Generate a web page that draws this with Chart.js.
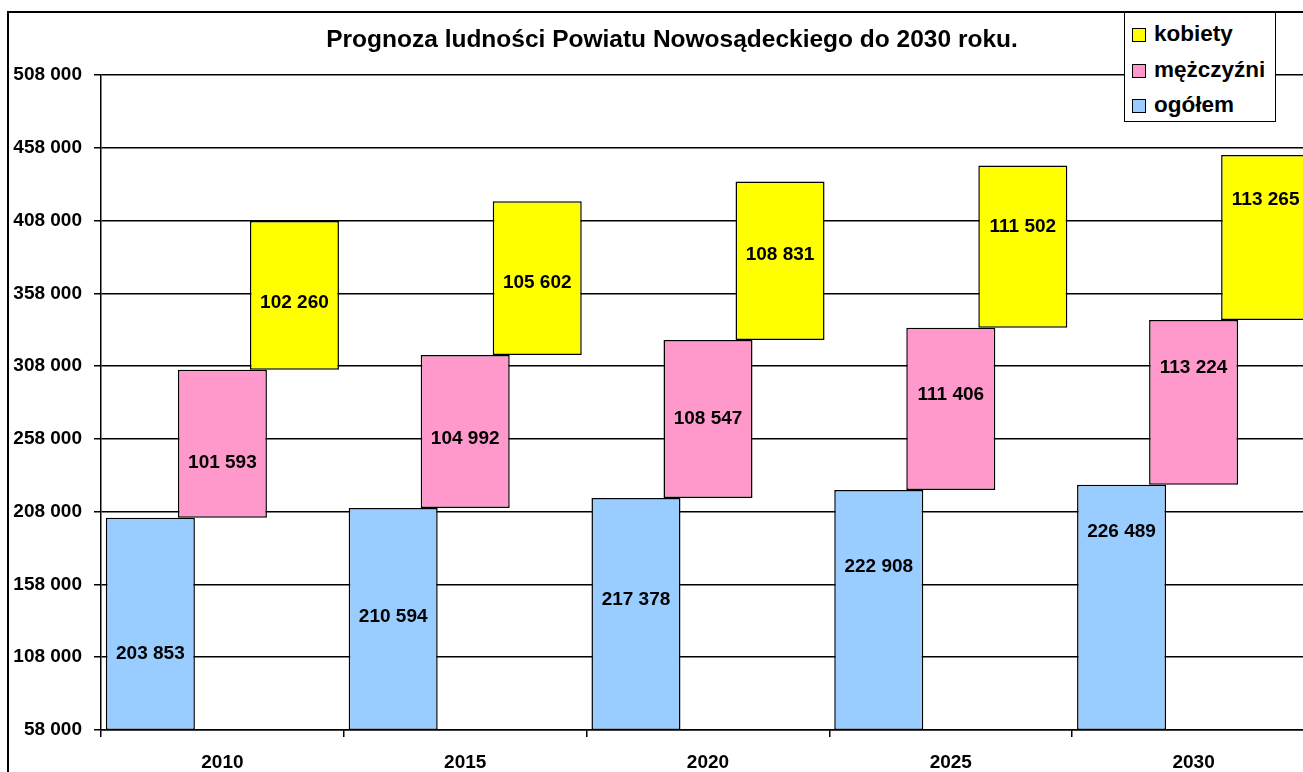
<!DOCTYPE html>
<html lang="pl">
<head>
<meta charset="utf-8">
<title>Prognoza ludności Powiatu Nowosądeckiego</title>
<script src="https://cdn.jsdelivr.net/npm/chart.js@4.4.1/dist/chart.umd.min.js"></script>
<style>
    html, body {
        margin: 0;
        padding: 0;
        background: #fff;
        width: 1303px;
        height: 772px;
        overflow: hidden;
    }
    #frame {
        position: absolute;
        left: 7px;
        top: 11px;
        width: 1400px;
        height: 900px;
        border-left: 2px solid #000;
        border-top: 2px solid #000;
    }
    #wrap {
        position: absolute;
        left: 0;
        top: 0;
    }
    #legend {
        position: absolute;
        left: 1124px;
        top: 12px;
        width: 150px;
        height: 108px;
        border: 1.5px solid #000;
        background: #fff;
        font: bold 22.5px "Liberation Sans", Arial, sans-serif;
        color: #000;
    }
    #legend .row {
        position: absolute;
        left: 7px;
        height: 26px;
        line-height: 26px;
        white-space: nowrap;
    }
    #legend .box {
        display: inline-block;
        width: 12px;
        height: 12px;
        border: 1px solid #000;
        margin-right: 8px;
        vertical-align: -1px;
    }
</style>
</head>
<body>
<div id="frame"></div>
<div id="wrap">
    <canvas id="popChart" width="1344" height="800"></canvas>
</div>
<div id="legend"></div>

<script>
// dane
const years = ['2010', '2015', '2020', '2025', '2030'];
const ogolem = [203853, 210594, 217378, 222908, 226489];
const mezczyzni = [101593, 104992, 108547, 111406, 113224];
const kobiety = [102260, 105602, 108831, 111502, 113265];
const yTicks = [58000, 108000, 158000, 208000, 258000, 308000, 358000, 408000, 458000, 508000];

const seriesNames = ['ogółem', 'mężczyźni', 'kobiety'];
const seriesColors = ['#99CCFF', '#FF99CC', '#FFFF00'];
const chartTitle = 'Prognoza ludności Powiatu Nowosądeckiego do 2030 roku.';

// gdzie w słupku stoi etykieta (ułamek wysokości od dołu), jak w oryginale
const labelAt = [
    [0.36, 0.51, 0.56, 0.68, 0.81],
    [0.37, 0.45, 0.50, 0.59, 0.71],
    [0.45, 0.47, 0.54, 0.62, 0.73]
];

const FONT = '"Liberation Sans", Arial, sans-serif';

function fmt(v) {
    return String(v).replace(/\B(?=(\d{3})+(?!\d))/g, ' ');
}

// słupki "pływające": ogółem od dołu osi, mężczyźni nad nim, kobiety na samej górze
const axisMin = yTicks[0];
const blueData = ogolem.map(v => [axisMin, v]);
const pinkData = ogolem.map((v, i) => [v, v + mezczyzni[i]]);
const yellowData = ogolem.map((v, i) => [v + mezczyzni[i], v + mezczyzni[i] + kobiety[i]]);
const rawValues = [ogolem, mezczyzni, kobiety];

const barLabels = {
    id: 'barLabels',
    afterDatasetsDraw(chart) {
        const ctx = chart.ctx;
        ctx.save();
        ctx.font = 'bold 19px ' + FONT;
        ctx.fillStyle = '#000';
        ctx.textAlign = 'center';
        ctx.textBaseline = 'middle';
        chart.data.datasets.forEach((ds, i) => {
            const meta = chart.getDatasetMeta(i);
            meta.data.forEach((bar, j) => {
                const y = bar.base + (bar.y - bar.base) * labelAt[i][j];
                ctx.fillText(fmt(rawValues[i][j]), bar.x, y);
            });
        });
        ctx.restore();
    }
};

// tytuł rysowany ręcznie - w oryginale stoi na środku całej ramki, nie obszaru wykresu
const titlePlugin = {
    id: 'frameTitle',
    afterDraw(chart) {
        const ctx = chart.ctx;
        ctx.save();
        ctx.font = 'bold 24.5px ' + FONT;
        ctx.fillStyle = '#000';
        ctx.textAlign = 'center';
        ctx.textBaseline = 'middle';
        ctx.fillText(chartTitle, chart.width / 2, 40);
        ctx.restore();
    }
};

const ctx = document.getElementById('popChart').getContext('2d');

new Chart(ctx, {
    type: 'bar',
    data: {
        labels: years,
        datasets: [
            { label: seriesNames[0], data: blueData, backgroundColor: seriesColors[0] },
            { label: seriesNames[1], data: pinkData, backgroundColor: seriesColors[1] },
            { label: seriesNames[2], data: yellowData, backgroundColor: seriesColors[2] }
        ]
    },
    options: {
        responsive: false,
        animation: false,
        datasets: {
            bar: {
                categoryPercentage: 0.89,
                barPercentage: 1.236,
                borderColor: '#000',
                borderWidth: 1.5,
                borderSkipped: false
            }
        },
        layout: {
            padding: { left: 0, right: 29, top: 75, bottom: 0 }
        },
        plugins: {
            legend: { display: false },
            tooltip: { enabled: false },
            title: { display: false }
        },
        scales: {
            x: {
                grid: {
                    drawOnChartArea: false,
                    drawTicks: true,
                    tickLength: 7,
                    color: '#000',
                    lineWidth: 1.5
                },
                border: { display: true, color: '#000', width: 1.5 },
                ticks: {
                    color: '#000',
                    padding: 14,
                    font: { family: FONT, size: 19, weight: 'bold' }
                },
                afterFit(scale) {
                    scale.height = 70;
                }
            },
            y: {
                min: yTicks[0],
                max: yTicks[yTicks.length - 1],
                afterBuildTicks(scale) {
                    scale.ticks = yTicks.map(v => ({ value: v }));
                },
                grid: {
                    color: '#000',
                    lineWidth: 1.5,
                    tickLength: 7
                },
                border: { display: true, color: '#000', width: 1.5 },
                ticks: {
                    color: '#000',
                    padding: 12,
                    font: { family: FONT, size: 19, weight: 'bold' },
                    callback: v => fmt(v)
                },
                afterFit(scale) {
                    scale.width = 101;
                }
            }
        }
    },
    plugins: [barLabels, titlePlugin]
});

// legenda w ramce, kolejność jak w oryginale (od góry: kobiety)
const legendEl = document.getElementById('legend');
const rowTops = [8, 44, 79];
[2, 1, 0].forEach((k, n) => {
    const row = document.createElement('div');
    row.className = 'row';
    row.style.top = rowTops[n] + 'px';
    row.innerHTML = '<span class="box" style="background:' + seriesColors[k] + '"></span>' + seriesNames[k];
    legendEl.appendChild(row);
});
</script>
</body>
</html>
